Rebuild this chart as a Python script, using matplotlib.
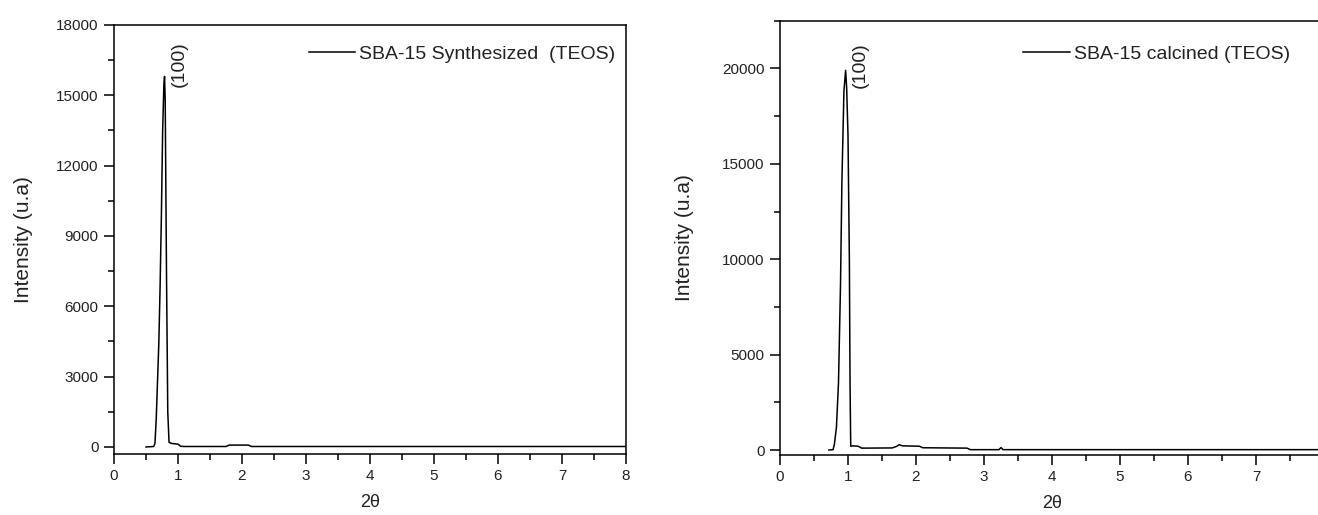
import matplotlib
matplotlib.use("Agg")
import matplotlib.pyplot as plt
from matplotlib.ticker import MultipleLocator

plt.rcParams['font.family'] = ['Liberation Sans', 'DejaVu Sans']

# ---- data: SBA-15 synthesized ----
x_syn = [0.50, 0.62, 0.64, 0.66, 0.68, 0.70, 0.72, 0.74, 0.76, 0.78, 0.79, 0.80,
         0.82, 0.84, 0.86, 0.90, 1.00, 1.04, 1.10, 1.75, 1.80, 2.10, 2.15, 8.0]
y_syn = [0, 20, 150, 1200, 2800, 4400, 6800, 9800, 13500, 15500, 15800, 14800,
         7500, 1500, 200, 150, 120, 30, 20, 20, 80, 80, 20, 20]

# ---- data: SBA-15 calcined ----
x_cal = [0.72, 0.78, 0.80, 0.83, 0.86, 0.89, 0.91, 0.94, 0.965, 0.98, 1.00, 1.02,
         1.03, 1.04, 1.06, 1.15, 1.20, 1.65, 1.72, 1.75, 1.80, 2.05, 2.10, 2.75,
         2.80, 3.22, 3.25, 3.28, 8.0]
y_cal = [0, 20, 300, 1200, 3500, 8700, 14000, 18800, 19900, 19000, 16500, 10000,
         3500, 200, 220, 200, 100, 110, 200, 280, 220, 200, 120, 100,
         20, 20, 130, 20, 20]

label_syn = "SBA-15 Synthesized  (TEOS)"
label_cal = "SBA-15 calcined (TEOS)"
peak_label = "(100)"
xlabel = "2\u03b8"
ylabel = "Intensity (u.a)"

W, H = 1318, 515
fig = plt.figure(figsize=(W / 100, H / 100), dpi=100)

ax1 = fig.add_axes([114 / W, (H - 454) / H, 512 / W, 429 / H])
ax2 = fig.add_axes([780 / W, (H - 455) / H, 544 / W, 434.3 / H])

tick_col = '#222222'
for ax in (ax1, ax2):
    for sp in ax.spines.values():
        sp.set_linewidth(1.1)
        sp.set_color('black')
    ax.tick_params(which='major', direction='out', length=7, width=1.1,
                   labelsize=11, colors='black', labelcolor=tick_col, pad=4)
    ax.tick_params(which='minor', direction='out', length=4, width=1.1, colors='black')
    ax.set_xlim(0, 8)
    ax.xaxis.set_major_locator(MultipleLocator(1))
    ax.xaxis.set_minor_locator(MultipleLocator(0.5))
    ax.set_xlabel(xlabel, fontsize=13, color=tick_col, labelpad=8)

ax1.set_ylabel(ylabel, fontsize=15, color=tick_col, labelpad=17)
ax2.set_ylabel(ylabel, fontsize=15, color=tick_col, labelpad=20)

ax1.plot(x_syn, y_syn, color='black', lw=1.1, label=label_syn)
ax1.set_ylim(-300, 18000)
ax1.yaxis.set_major_locator(MultipleLocator(3000))
ax1.yaxis.set_minor_locator(MultipleLocator(1500))
ax1.text(1.02, 15360, peak_label, rotation=90, ha='center', va='bottom',
         fontsize=14, color=tick_col)
ax1.legend(loc='center right', bbox_to_anchor=(0.979, 0.932), frameon=False,
           fontsize=14, handlelength=2.4, handletextpad=0.2, borderpad=0,
           borderaxespad=0, labelcolor=tick_col)

ax2.plot(x_cal, y_cal, color='black', lw=1.1, label=label_cal)
ax2.set_ylim(-260, 22500)
ax2.yaxis.set_major_locator(MultipleLocator(5000))
ax2.yaxis.set_minor_locator(MultipleLocator(2500))
ax2.text(1.18, 18970, peak_label, rotation=90, ha='center', va='bottom',
         fontsize=14, color=tick_col)
ax2.legend(loc='center right', bbox_to_anchor=(0.9375, 0.923), frameon=False,
           fontsize=14, handlelength=2.4, handletextpad=0.2, borderpad=0,
           borderaxespad=0, labelcolor=tick_col)

fig.savefig("out.png", dpi=100)
